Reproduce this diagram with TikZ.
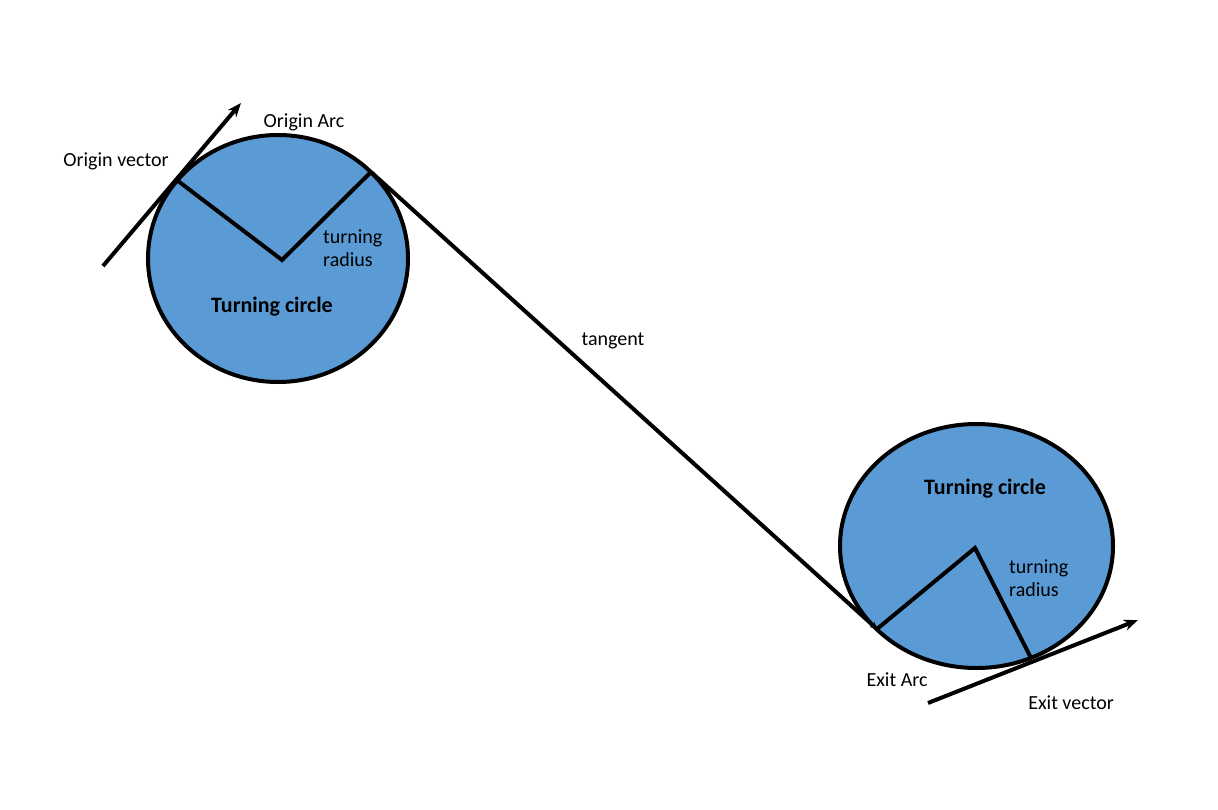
\documentclass[tikz,border=0pt]{standalone}
\usepackage{fontspec}
\setmainfont{Carlito}
\usetikzlibrary{arrows.meta}
\definecolor{circblue}{HTML}{5B9BD5}
\begin{document}
\begin{tikzpicture}[x=1pt,y=-1pt,
  circ/.style={draw=black,fill=circblue,line width=4pt},
  ln/.style={draw=black,line width=4pt},
  lbl/.style={font=\fontsize{20}{23.5}\selectfont,inner sep=0pt},
  blbl/.style={font=\fontsize{22}{26}\selectfont\bfseries,inner sep=0pt}]
\useasboundingbox (0,0) rectangle (1218,810);
% circles
\draw[circ] (278,258.5) ellipse [x radius=130, y radius=123.5];
\draw[circ] (976.5,546) ellipse [x radius=136.5, y radius=122];
% key points
\coordinate (c1) at (282,260);
\coordinate (a1) at (178,181);
\coordinate (b1) at (371,172);
\coordinate (c2) at (975,548);
\coordinate (a2) at (877,629);
\coordinate (b2) at (1031,658);
\coordinate (ov0) at (103,266);
\coordinate (ov1) at (241,103);
\coordinate (ev0) at (928,703);
\coordinate (ev1) at (1138,620);
% radii
\draw[ln,line join=miter] (a1) -- (c1) -- (b1);
\draw[ln,line join=miter] (a2) -- (c2) -- (b2);
% vectors
\draw[ln,-{Stealth[length=14pt,width=11pt]}] (ov0) -- (ov1);
\draw[ln,-{Stealth[length=14pt,width=11pt]}] (ev0) -- (ev1);
% tangent
\draw[ln,-{Stealth[length=7pt,width=7pt]}] (b1) -- (a2);
% labels
\node[lbl] (oarc) at (304,122) {Origin Arc};
\node[lbl] (ovec) at (116,161) {Origin vector};
\node[lbl,align=left,anchor=west] (tr1) at (323,248) {turning\\radius};
\node[blbl] (tc1) at (272,307) {Turning circle};
\node[lbl] (tan) at (613,341) {tangent};
\node[blbl] (tc2) at (985,489) {Turning circle};
\node[lbl,align=left,anchor=west] (tr2) at (1009,578) {turning\\radius};
\node[lbl] (earc) at (897,680) {Exit Arc};
\node[lbl] (evec) at (1071,703) {Exit vector};
\end{tikzpicture}
\end{document}
